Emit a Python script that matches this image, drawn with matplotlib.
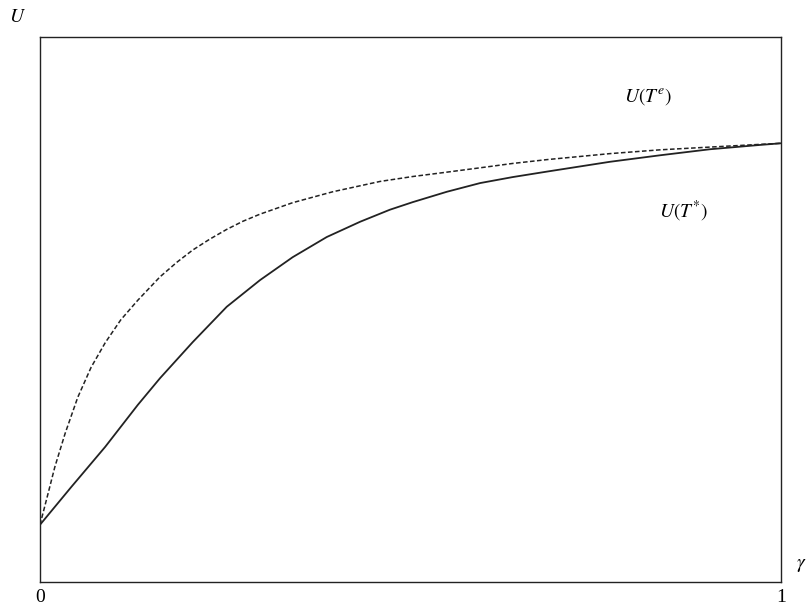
import matplotlib
matplotlib.use("Agg")
import matplotlib.pyplot as plt

# gamma / utility values (axes span 0..1 both ways)
gamma_e = [0.000, 0.011, 0.020, 0.034, 0.051, 0.069, 0.088, 0.109, 0.132, 0.162,
           0.185, 0.206, 0.229, 0.252, 0.274, 0.297, 0.341, 0.395, 0.459, 0.503,
           0.549, 0.594, 0.638, 0.684, 0.769, 0.837, 0.904, 0.972, 1.000]
u_e = [0.105, 0.163, 0.211, 0.273, 0.339, 0.394, 0.439, 0.481, 0.517, 0.560,
       0.587, 0.609, 0.629, 0.647, 0.662, 0.675, 0.696, 0.716, 0.735, 0.744,
       0.752, 0.760, 0.768, 0.775, 0.786, 0.793, 0.798, 0.803, 0.805]

gamma_s = [0.000, 0.042, 0.088, 0.132, 0.162, 0.206, 0.252, 0.297, 0.341, 0.387,
           0.432, 0.472, 0.503, 0.549, 0.594, 0.638, 0.684, 0.769, 0.837, 0.904,
           0.972, 1.000]
u_s = [0.105, 0.174, 0.248, 0.325, 0.374, 0.440, 0.505, 0.554, 0.596, 0.633,
       0.661, 0.683, 0.697, 0.716, 0.732, 0.743, 0.753, 0.771, 0.783, 0.794,
       0.802, 0.805]

plt.rcParams["mathtext.fontset"] = "stix"
plt.rcParams["font.family"] = ["Liberation Serif", "DejaVu Serif"]

W, H = 808, 608
fig = plt.figure(figsize=(W / 100, H / 100), dpi=100)
ax = fig.add_axes([40 / W, (H - 582) / H, 741 / W, 545 / H])

ax.plot(gamma_s, u_s, color="#222222", lw=1.3, solid_joinstyle="round")
ax.plot(gamma_e, u_e, color="#222222", lw=1.1, dashes=(3, 1.6))

ax.set_xlim(0, 1)
ax.set_ylim(0, 1)
ax.set_xticks([])
ax.set_yticks([])
for sp in ax.spines.values():
    sp.set_linewidth(1.0)
    sp.set_color("#222222")

fs = 14
ax.text(0.82, 0.89, r"$U(T^{e})$", fontsize=fs, ha="center", va="center",
        transform=ax.transAxes)
ax.text(0.868, 0.68, r"$U(T^{*})$", fontsize=fs, ha="center", va="center",
        transform=ax.transAxes)

fig.text(17 / W, 1 - 17 / H, r"$U$", fontsize=fs, ha="center", va="center")
fig.text(801 / W, 1 - 566 / H, r"$\gamma$", fontsize=fs, ha="center", va="center")
fig.text(40 / W, 1 - 597 / H, "0", fontsize=fs, ha="center", va="center")
fig.text(781 / W, 1 - 597 / H, "1", fontsize=fs, ha="center", va="center")

fig.savefig("out.png", dpi=100)
